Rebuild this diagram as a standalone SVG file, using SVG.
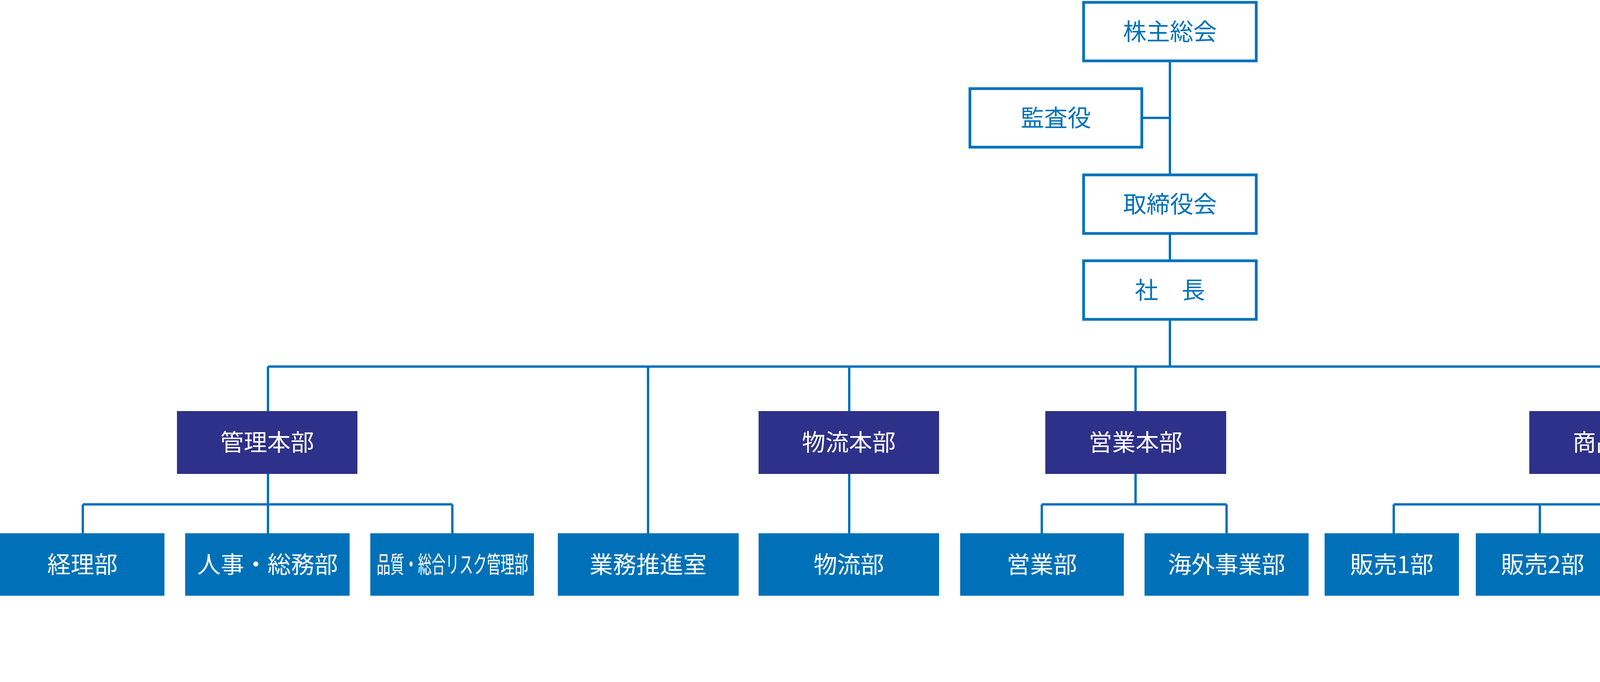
<svg xmlns="http://www.w3.org/2000/svg" width="5777" height="1747" viewBox="0 0 5777 1747">
<style>
text{font-family:"Noto Sans CJK JP","Noto Sans",sans-serif;font-size:60px;text-anchor:middle}
.top rect{fill:#fff;stroke:#0071bb;stroke-width:7}
.top text{fill:#0071bb}
.hq rect{fill:#2e3189}
.dp rect{fill:#0071b8}
.hq text,.dp text{fill:#fff}
#conn path{fill:none;stroke:#0071bb;stroke-width:6}
</style>
<text x="5772" y="62" style="text-anchor:end;fill:#000">2026年5月15日以降</text>
<g id="conn">
<path d="M2995 159V445M2926 302H2995M2995 600V665M2995 821V939M686 939H5552"/>
<path d="M686 939V1053M1659 939V1366M2174 939V1053M2907 939V1053M4146 939V1053M5552 939V1053"/>
<path d="M686 1214V1292M212 1292H1158M212 1292V1366M686 1292V1366M1158 1292V1366"/>
<path d="M2174 1214V1366"/>
<path d="M2907 1214V1292M2667 1292H3140M2667 1292V1366M3140 1292V1366"/>
<path d="M4146 1214V1292M3568 1292H5106M3568 1292V1366M3942 1292V1366M4347 1292V1366M4720 1292V1366M5106 1292V1366"/>
<path d="M5552 1214V1366"/>
</g>
<g id="n-kabunushi" class="top"><rect x="2774" y="6" width="442" height="150"/><text x="2995" y="103">株主総会</text></g>
<g id="n-kansa" class="top"><rect x="2483" y="227" width="440" height="150"/><text x="2703" y="324">監査役</text></g>
<g id="n-torishimari" class="top"><rect x="2774" y="448" width="442" height="150"/><text x="2995" y="545">取締役会</text></g>
<g id="n-shacho" class="top"><rect x="2774" y="668" width="442" height="150"/><text x="2995" y="765">社　長</text></g>
<g id="n-kanri" class="hq"><rect x="453" y="1053" width="462" height="161"/><text x="684" y="1155">管理本部</text></g>
<g id="n-butsuryu" class="hq"><rect x="1942" y="1053" width="462" height="161"/><text x="2173" y="1155">物流本部</text></g>
<g id="n-eigyo" class="hq"><rect x="2676" y="1053" width="463" height="161"/><text x="2907" y="1155">営業本部</text></g>
<g id="n-shohin" class="hq"><rect x="3915" y="1053" width="463" height="161"/><text x="4146" y="1155">商品本部</text></g>
<g id="n-seisan" class="hq"><rect x="5320" y="1053" width="457" height="161"/><text x="5550" y="1155">生産管理本部</text></g>
<g id="n-keiri" class="dp"><rect x="0" y="1366" width="421" height="160"/><text x="211" y="1468">経理部</text></g>
<g id="n-jinji" class="dp"><rect x="474" y="1366" width="421" height="160"/><text x="685" y="1468">人事・総務部</text></g>
<g id="n-hinshitsu" class="dp"><rect x="948" y="1366" width="419" height="160"/><text x="1158" y="1468" textLength="388" lengthAdjust="spacingAndGlyphs">品質・総合リスク管理部</text></g>
<g id="n-gyomusuishin" class="dp"><rect x="1428" y="1366" width="463" height="160"/><text x="1659" y="1468">業務推進室</text></g>
<g id="n-butsuryubu" class="dp"><rect x="1942" y="1366" width="462" height="160"/><text x="2173" y="1468">物流部</text></g>
<g id="n-eigyobu" class="dp"><rect x="2458" y="1366" width="419" height="160"/><text x="2667" y="1468">営業部</text></g>
<g id="n-kaigai" class="dp"><rect x="2930" y="1366" width="420" height="160"/><text x="3140" y="1468">海外事業部</text></g>
<g id="n-hanbai1" class="dp"><rect x="3391" y="1366" width="344" height="160"/><text x="3563" y="1468">販売1部</text></g>
<g id="n-hanbai2" class="dp"><rect x="3778" y="1366" width="342" height="160"/><text x="3949" y="1468">販売2部</text></g>
<g id="n-hanbai3" class="dp"><rect x="4162" y="1366" width="344" height="160"/><text x="4334" y="1468">販売3部</text></g>
<g id="n-hanbai4" class="dp"><rect x="4548" y="1366" width="344" height="160"/><text x="4720" y="1468">販売4部</text></g>
<g id="n-gyomutokatsu" class="dp"><rect x="4935" y="1366" width="343" height="160"/><text x="5106" y="1468">業務統括室</text></g>
<g id="n-seisankanri" class="dp"><rect x="5320" y="1366" width="457" height="160"/><text x="5548" y="1468">生産管理部</text></g>
</svg>
